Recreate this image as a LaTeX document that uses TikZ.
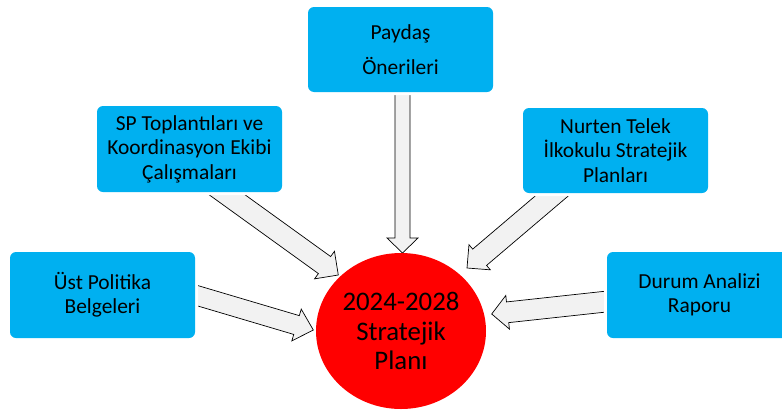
\documentclass[tikz,border=0pt]{standalone}
\usepackage{fontspec}
\setmainfont{Carlito}
\usetikzlibrary{calc,backgrounds,shapes.geometric}
\definecolor{boxblue}{HTML}{00B0F0}
\definecolor{arrowgray}{HTML}{F2F2F2}
\definecolor{planred}{HTML}{FF0000}
\tikzset{
  infobox/.style={fill=boxblue, rounded corners=6pt, minimum width=185pt,
    minimum height=86pt, align=center, inner sep=2pt,
    preaction={draw=white, line width=6pt},
    font=\fontsize{21.4}{24.5}\selectfont},
  planbox/.style={ellipse, fill=planred, minimum width=170pt, minimum height=156pt,
    inner sep=0pt, align=center, font=\fontsize{26.8}{29.5}\selectfont},
  blockarr/.style={fill=arrowgray, draw=black, line width=0.7pt, line join=miter}
}
% #1 start, #2 tip, #3 shaft half width, #4 head half width, #5 head length
\newcommand\myblockarrow[5]{%
  \coordinate (ba0) at ($(#1)!-14pt!(#2)$);
  \coordinate (bac) at ($(#2)!#5!(#1)$);
  \draw[blockarr] ($(ba0)!#3!90:(#2)$) -- ($(bac)!#3!90:(#2)$) -- ($(bac)!#4!90:(#2)$)
    -- (#2) -- ($(bac)!#4!-90:(#2)$) -- ($(bac)!#3!-90:(#2)$) -- ($(ba0)!#3!-90:(#2)$) -- cycle;
}
\begin{document}
\begin{tikzpicture}[x=1pt,y=-1pt]
\useasboundingbox (0,0) rectangle (782,410);
\node[infobox, minimum height=85pt, font=\fontsize{21.4}{35}\selectfont] (pay) at (400.5,49.5) {Paydaş\\Önerileri};
\node[infobox] (sp) at (189.5,149) {SP Toplantıları ve\\Koordinasyon Ekibi\\Çalışmaları};
\node[infobox, minimum height=85pt] (nur) at (615.5,150.5) {Nurten Telek\\İlkokulu Stratejik\\Planları};
\node[infobox] (ust) at (102.5,295) {Üst Politika\\Belgeleri};
\node[infobox] (dur) at (699.5,295) {Durum Analizi\\Raporu};
\node[planbox] (plan) at (401,331) {2024-2028\\Stratejik\\Planı};

\coordinate (payS) at ($(pay.south)+(2,0)$);
\coordinate (spS) at ($(sp.south)+(34,0)$);
\coordinate (nurS) at ($(nur.south)+(-60.5,0)$);
\coordinate (ustS) at (ust.east);
\coordinate (durS) at ($(dur.west)+(0,6.5)$);
\coordinate (tTop) at ($(plan.center)+(1.5,-78)$);
\coordinate (tSp) at ($(plan.center)+(-62.7,-56)$);
\coordinate (tNur) at ($(plan.center)+(66,-63)$);
\coordinate (tUst) at ($(plan.center)+(-87.7,-1)$);
\coordinate (tDur) at ($(plan.center)+(90.7,-17)$);

\begin{pgfonlayer}{background}
\myblockarrow{payS}{tTop}{7.5pt}{15.5pt}{15pt}
\myblockarrow{spS}{tSp}{10.5pt}{17pt}{17pt}
\myblockarrow{nurS}{tNur}{10.7pt}{16.5pt}{16.6pt}
\myblockarrow{ustS}{tUst}{9.8pt}{16.6pt}{17.5pt}
\myblockarrow{durS}{tDur}{10.4pt}{16.9pt}{16pt}
\end{pgfonlayer}
\end{tikzpicture}
\end{document}
